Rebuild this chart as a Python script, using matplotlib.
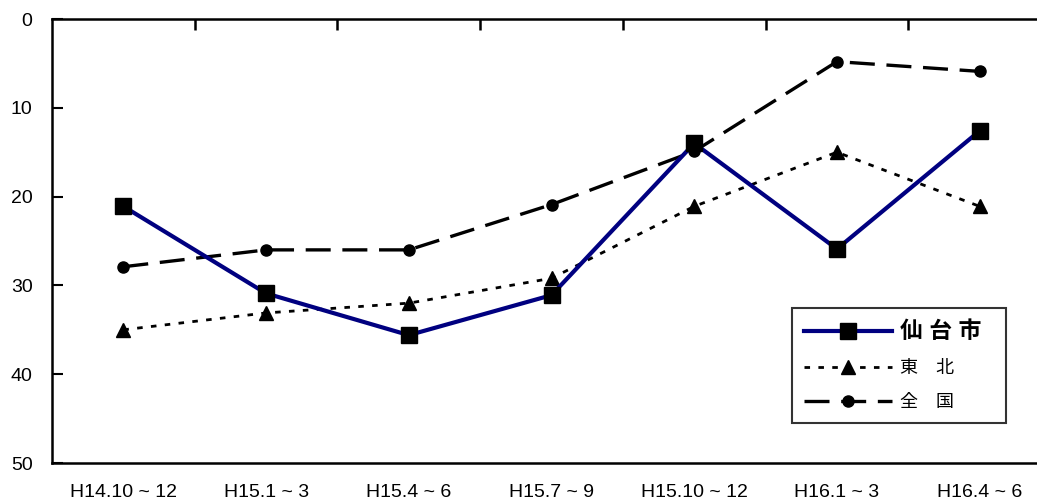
import matplotlib.pyplot as plt
import numpy as np

plt.rcParams['font.family'] = ['Liberation Sans', 'Noto Sans CJK JP', 'DejaVu Sans']

# データ
kikan = ["H14.10 ~ 12", "H15.1 ~ 3", "H15.4 ~ 6", "H15.7 ~ 9",
         "H15.10 ~ 12", "H16.1 ~ 3", "H16.4 ~ 6"]
sendai = [21.1, 30.9, 35.6, 31.1, 14.0, 25.9, 12.6]
tohoku = [35.0, 33.1, 32.0, 29.2, 21.1, 15.0, 21.1]
zenkoku = [27.9, 26.0, 26.0, 20.9, 14.9, 4.8, 5.9]

x = np.arange(len(kikan))

fig = plt.figure(figsize=(10.37, 5.0), dpi=100)
ax = fig.add_axes([52/1037, 37/500, (1051-52)/1037, 444/500])

ax.plot(x, zenkoku, color="black", lw=2.4, dashes=(7.5, 3.5), marker="o", ms=8,
        label="全　国")
ax.plot(x, tohoku, color="black", lw=2.0, dashes=(2, 3), marker="^", ms=10,
        label="東　北")
ax.plot(x, sendai, color="#000080", lw=3.0, marker="s", ms=11,
        mfc="black", mec="black", label="仙 台 市  ")

ax.set_xlim(-0.5, 6.5)
ax.set_ylim(50, 0)
ax.set_yticks(np.arange(0, 51, 10))
ax.set_xticks(x)
ax.set_xticklabels(kikan, fontsize=14)
ax.tick_params(axis="x", length=0, pad=15)
ax.tick_params(axis="y", direction="in", length=8, width=1.5, labelsize=14, pad=14)
# 上側の区切り目盛
ax.set_xticks(np.arange(0.5, 6.5, 1), minor=True)
ax.tick_params(axis="x", which="minor", direction="in", length=8, width=1.8,
               top=True, bottom=False)
for s in ax.spines.values():
    s.set_linewidth(1.8)

h, l = ax.get_legend_handles_labels()
leg = ax.legend(h[::-1], l[::-1], loc="upper left",
                bbox_to_anchor=((792-52)/999, 1 - (308-19)/444),
                borderaxespad=0, frameon=True, fancybox=False, edgecolor="black",
                handlelength=4.9, handletextpad=0.45, borderpad=0.65,
                labelspacing=0.95, fontsize=13)
leg.get_frame().set_linewidth(1.5)
leg.get_texts()[0].set_fontsize(16.5)
leg.get_texts()[0].set_fontweight("bold")

fig.savefig("out.png", dpi=100)
